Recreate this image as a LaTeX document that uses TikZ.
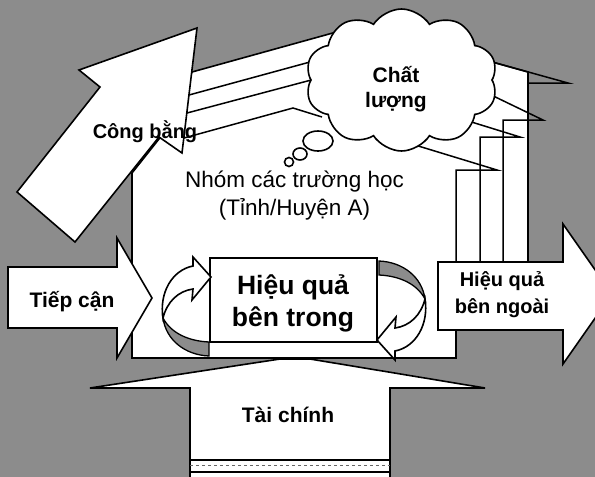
\documentclass[tikz,border=0pt]{standalone}
\usepackage{fontspec}
\setmainfont{Liberation Sans}
\usetikzlibrary{shapes.symbols}
\definecolor{bgray}{RGB}{140,140,140}
\newcommand\turnarrowpaths{%
  \path[backface] (163,318) .. controls (166,340) and (185,355) .. (209,356) -- (209,342) .. controls (188,341) and (171,333) .. (163,318) -- cycle;
  \path[shapeline] (163,318) .. controls (159,293) and (172,270) .. (193,266) -- (193,257) -- (211,277) -- (192,300) -- (193,289) .. controls (178,291) and (167,302) .. (163,318) -- cycle;
}
\begin{document}
\begin{tikzpicture}[x=1pt,y=-1pt,
  shapeline/.style={draw=black,line width=1.6pt,line join=miter,fill=white},
  edgeline/.style={draw=black,line width=1.5pt},
  backface/.style={draw=black,line width=1.3pt,fill=bgray},
  boldlbl/.style={font=\bfseries\fontsize{21}{25}\selectfont,align=center,inner sep=0pt},
]
\useasboundingbox (0,0) rectangle (595,477);
\fill[bgray] (0,0) rectangle (595,477);
\begin{scope}
\clip (0,0) rectangle (595,477);
% white region of the school group
\path[shapeline] (132,358) -- (132,173) -- (159,139) -- (192,72) -- (340,31) -- (485,60) -- (528,72) -- (528,262) -- (456,262) -- (456,358) -- cycle;
% stepped bars with tails to the cloud
\draw[edgeline] (456,262) -- (456,170) -- (497,170) -- (415,145);
\draw[edgeline] (480,262) -- (480,137) -- (520,137) -- (465,120);
\draw[edgeline] (503,262) -- (503,120) -- (543,120) -- (485,92);
\draw[edgeline] (528,83) -- (568,83) -- (485,60);
% ribbon lines from the equity arrow
\draw[edgeline] (189,95) -- (332,56);
\draw[edgeline] (187,113) -- (315,79);
\draw[edgeline] (184,138) -- (293,108) -- (322,117);
% cloud
\node[cloud, cloud puffs=10, cloud puff arc=115, aspect=1.4, draw=black, line width=1.6pt, fill=white, minimum width=192pt, minimum height=142pt, inner sep=0pt] (cloudshape) at (401.5,80) {};
\draw[shapeline] (318,141) ellipse [x radius=15, y radius=10];
\draw[shapeline] (300,154) ellipse [x radius=7, y radius=6];
\draw[shapeline] (289,162) circle [radius=4.5];
% equity arrow
\path[shapeline] (197,28) -- (79,70) -- (100,87) -- (17,192) -- (75,242) -- (159,137) -- (182,153) -- cycle;
% access arrow
\path[shapeline] (8,267) -- (117,267) -- (117,238) -- (152,298) -- (117,358) -- (117,328) -- (8,328) -- cycle;
% finance arrow
\path[shapeline] (190,482) -- (190,388) -- (90,388) -- (280,359) -- (310,359) -- (485,388) -- (390,388) -- (390,482) -- cycle;
\draw[edgeline] (190,460) -- (390,460);
\draw[line width=0.8pt, dashed, black!60] (190,465) -- (390,465);
\draw[edgeline] (190,472) -- (390,472);
% external efficiency arrow
\path[shapeline] (438,262) -- (563,262) -- (563,224) -- (612,294) -- (563,364) -- (563,330) -- (438,330) -- cycle;
% internal efficiency box
\path[shapeline] (210,258) rectangle (377,342);
\turnarrowpaths
\begin{scope}[rotate around={180:(294,308.5)}]
\turnarrowpaths
\end{scope}
\end{scope}
% labels
\node[boldlbl, anchor=base, font=\bfseries\fontsize{20}{24}\selectfont] (equity) at (145,138) {Công bằng};
\node[boldlbl, anchor=base] (access) at (72,307) {Tiếp cận};
\node[boldlbl, anchor=base] (finance) at (288,422) {Tài chính};
\node[boldlbl, font=\bfseries\fontsize{26.5}{32}\selectfont] (internal) at (293,303) {Hiệu quả\\bên trong};
\node[boldlbl, font=\bfseries\fontsize{20}{27}\selectfont] (external) at (502,295) {Hiệu quả\\bên ngoài};
\node[boldlbl] (quality) at (396,89) {Chất\\lượng};
\node[font=\fontsize{22.5}{28}\selectfont, align=center, inner sep=0pt] (group) at (294.5,196) {Nhóm các trường học\\(Tỉnh/Huyện A)};
\end{tikzpicture}
\end{document}
